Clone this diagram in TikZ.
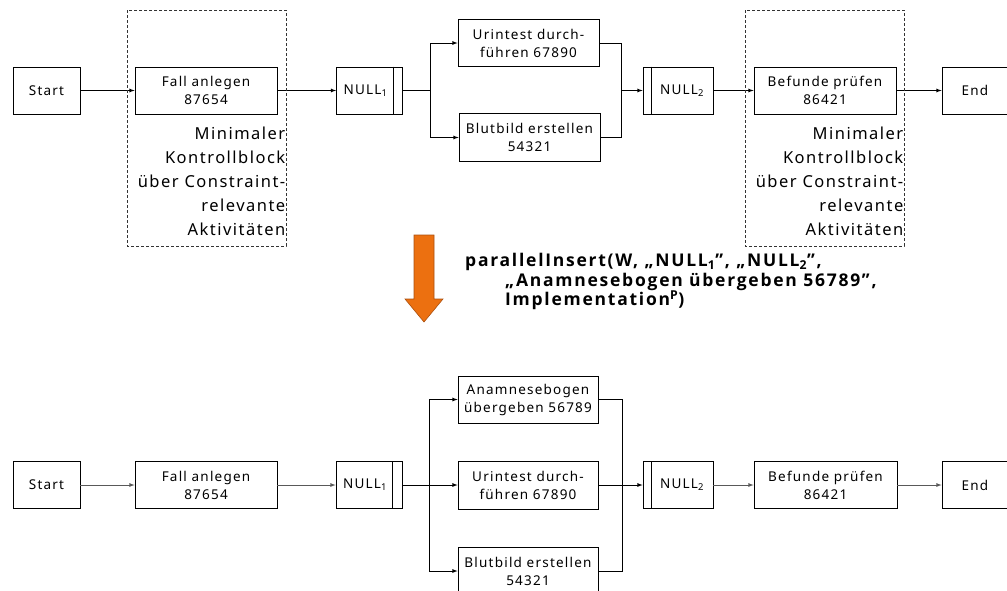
\documentclass[tikz,border=0pt]{standalone}
\usepackage{fontspec}
\setmainfont{Noto Sans}[LetterSpace=9]
\newfontfamily\cmdfont{Open Sans}[BoldFont={Open Sans Bold}, LetterSpace=10]
\usetikzlibrary{
arrows,
arrows.meta,
calc,
positioning
}
\tikzset{>=latex}
\definecolor{insertorange}{RGB}{236,112,16}
\definecolor{insertedge}{RGB}{170,80,15}

\tikzset{
	act/.style={draw, rectangle, line width=0.8pt, minimum height=47pt, inner sep=0pt, align=center, font=\fontsize{13.5}{18}\selectfont},
	flow/.style={->, line width=0.8pt},
	flowgray/.style={flow, draw=black!65},
	ctrlblock/.style={draw=black!80, dash pattern=on 3pt off 2pt, line width=0.7pt},
	ctrltext/.style={anchor=north east, inner sep=0pt, align=right, font=\fontsize{16.5}{24}\selectfont}
}

\begin{document}
\begin{tikzpicture}[x=1pt, y=-1pt]
	\useasboundingbox (0,0) rectangle (1007,590);
	\clip (0,0) rectangle (1007,590);

	% upper process: before the insert
	\node[act, minimum width=67pt] (start-t) at (46.5,90.5) {Start};
	\node[act, minimum width=142pt] (fall-t) at (206,90.5) {Fall anlegen\\87654};
	\node[act, minimum width=66pt] (null1-t) at (369.5,90.5) {NULL\textsubscript{1}\hspace{8pt}};
	\node[act, minimum width=141pt] (urin-t) at (528.5,43) {Urintest durch-\\führen 67890};
	\node[act, minimum width=141pt, minimum height=48pt] (blut-t) at (529.5,137.5) {Blutbild erstellen\\54321};
	\node[act, minimum width=70pt] (null2-t) at (678,90.5) {\hspace{8pt}NULL\textsubscript{2}};
	\node[act, minimum width=142pt] (befund-t) at (825,90.5) {Befunde prüfen\\86421};
	\node[act, minimum width=66pt] (end-t) at (975,90.5) {End};
	\draw[line width=0.8pt] ([xshift=-10pt]null1-t.north east) -- ([xshift=-10pt]null1-t.south east);
	\draw[line width=0.8pt] ([xshift=9pt]null2-t.north west) -- ([xshift=9pt]null2-t.south west);

	\coordinate (split-t) at (430,90.5);
	\coordinate (join-t) at (621,90.5);
	\draw[flow] (start-t) -- (fall-t);
	\draw[flow] (fall-t) -- (null1-t);
	\draw[line width=0.8pt] (null1-t) -- (split-t);
	\draw[flow] (split-t) |- (urin-t);
	\draw[flow] (split-t) |- (blut-t);
	\draw[line width=0.8pt] (urin-t) -| (join-t);
	\draw[line width=0.8pt] (blut-t) -| (join-t);
	\draw[flow] (join-t) -- (null2-t);
	\draw[flow] (null2-t) -- (befund-t);
	\draw[flow] (befund-t) -- (end-t);

	% minimal control blocks
	\draw[ctrlblock] (127,10) rectangle (286,246);
	\draw[ctrlblock] (745,10) rectangle (904,246);
	\node[ctrltext] (ctrl-a) at (285.5,127) {Minimaler\\Kontrollblock\\über Constraint-\\relevante\\Aktivitäten};
	\node[ctrltext] (ctrl-b) at (903.5,127) {Minimaler\\Kontrollblock\\über Constraint-\\relevante\\Aktivitäten};

	% change operation
	\filldraw[fill=insertorange, draw=insertedge, line width=0.6pt]
		(414,235) -- (434,235) -- (434,299) -- (443,299) -- (424,322) -- (405,299) -- (414,299) -- cycle;
	\node[anchor=north west, inner sep=0pt, align=left, font=\cmdfont\bfseries\fontsize{17.5}{19.5}\selectfont] (insert) at (465,253)
		{parallelInsert(W, „NULL\textsubscript{1}”, „NULL\textsubscript{2}”,\\
		\hspace*{40pt}„Anamnesebogen übergeben 56789”,\\
		\hspace*{40pt}Implementation\textsuperscript{P})};

	% lower process: after the insert
	\node[act, minimum width=67pt] (start-b) at (46.5,485) {Start};
	\node[act, minimum width=142pt] (fall-b) at (206,485) {Fall anlegen\\87654};
	\node[act, minimum width=66pt] (null1-b) at (369,485) {NULL\textsubscript{1}\hspace{8pt}};
	\node[act, minimum width=140pt] (anam-b) at (528,399.5) {Anamnesebogen\\übergeben 56789};
	\node[act, minimum width=140pt, minimum height=48pt] (urin-b) at (528,485) {Urintest durch-\\führen 67890};
	\node[act, minimum width=140pt, minimum height=48pt] (blut-b) at (528,571) {Blutbild erstellen\\54321};
	\node[act, minimum width=70pt] (null2-b) at (678,485) {\hspace{8pt}NULL\textsubscript{2}};
	\node[act, minimum width=143pt] (befund-b) at (825.5,485) {Befunde prüfen\\86421};
	\node[act, minimum width=66pt] (end-b) at (975,485) {End};
	\draw[line width=0.8pt] ([xshift=-10pt]null1-b.north east) -- ([xshift=-10pt]null1-b.south east);
	\draw[line width=0.8pt] ([xshift=9pt]null2-b.north west) -- ([xshift=9pt]null2-b.south west);

	\coordinate (split-b) at (429,485);
	\coordinate (join-b) at (622,485);
	\draw[flowgray] (start-b) -- (fall-b);
	\draw[flowgray] (fall-b) -- (null1-b);
	\draw[line width=0.8pt] (null1-b) -- (split-b);
	\draw[flow] (split-b) |- (anam-b);
	\draw[flow] (split-b) -- (urin-b);
	\draw[flow] (split-b) |- (blut-b);
	\draw[line width=0.8pt] (anam-b) -| (join-b);
	\draw[line width=0.8pt] (urin-b) -- (join-b);
	\draw[line width=0.8pt] (blut-b) -| (join-b);
	\draw[flow] (join-b) -- (null2-b);
	\draw[flowgray] (null2-b) -- (befund-b);
	\draw[flowgray] (befund-b) -- (end-b);
\end{tikzpicture}
\end{document}
